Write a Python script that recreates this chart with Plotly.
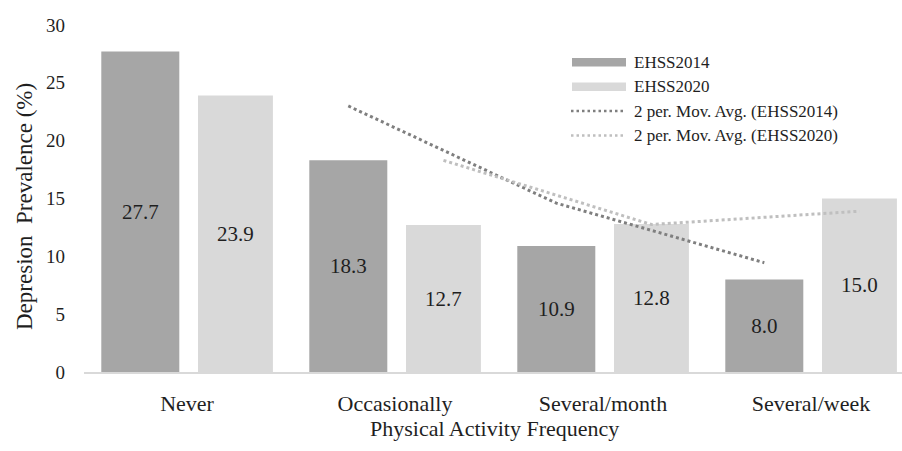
import plotly.graph_objects as go

# Depression prevalence (%) by physical activity frequency, two survey waves
categories = ["Never", "Occasionally", "Several/month", "Several/week"]
ehss2014 = [27.7, 18.3, 10.9, 8.0]
ehss2020 = [23.9, 12.7, 12.8, 15.0]

# 2-period moving averages (defined from the second category onward)
mov_avg_2014 = [23.0, 14.6, 9.45]
mov_avg_2020 = [18.3, 12.75, 13.9]

y_ticks = [0, 5, 10, 15, 20, 25, 30]

W, H = 902, 451
ML, MR, MT, MB = 84, 0, 25, 79
PLOT_W = W - ML - MR
PLOT_H = H - MT - MB

FONT = "Liberation Serif"
TXT = "#1f1f1f"
DARK = "#a6a6a6"
LIGHT = "#d9d9d9"
MA_DARK = "#7f7f7f"
MA_LIGHT = "#bfbfbf"

# bar geometry in category units
W14, OFF14 = 0.375, -0.412
W20, OFF20 = 0.36, 0.053
C14 = OFF14 + W14 / 2
C20 = OFF20 + W20 / 2

idx = list(range(len(categories)))


def fmt(v):
    return f"{v:.1f}"


def px_x(px):
    return (px - ML) / PLOT_W


def px_y(py):
    return (MT + PLOT_H - py) / PLOT_H


fig = go.Figure()

fig.add_trace(go.Bar(
    x=idx, y=ehss2014, width=W14, offset=OFF14,
    marker=dict(color=DARK, line=dict(width=0)),
    text=[fmt(v) for v in ehss2014], textposition="inside",
    insidetextanchor="middle", textangle=0,
    textfont=dict(family=FONT, size=21, color=TXT),
    name="EHSS2014", showlegend=False,
))
fig.add_trace(go.Bar(
    x=idx, y=ehss2020, width=W20, offset=OFF20,
    marker=dict(color=LIGHT, line=dict(width=0)),
    text=[fmt(v) for v in ehss2020], textposition="inside",
    insidetextanchor="middle", textangle=0,
    textfont=dict(family=FONT, size=21, color=TXT),
    name="EHSS2020", showlegend=False,
))

fig.add_trace(go.Scatter(
    x=[i + C14 for i in idx[1:]], y=mov_avg_2014, mode="lines",
    line=dict(color=MA_DARK, width=3, dash="3px,3px"),
    name="2 per. Mov. Avg. (EHSS2014)", showlegend=False, hoverinfo="skip",
))
fig.add_trace(go.Scatter(
    x=[i + C20 for i in idx[1:]], y=mov_avg_2020, mode="lines",
    line=dict(color=MA_LIGHT, width=3, dash="3px,3px"),
    name="2 per. Mov. Avg. (EHSS2020)", showlegend=False, hoverinfo="skip",
))

# hand-built legend
legend_rows = [
    ("EHSS2014", "bar", DARK),
    ("EHSS2020", "bar", LIGHT),
    ("2 per. Mov. Avg. (EHSS2014)", "line", MA_DARK),
    ("2 per. Mov. Avg. (EHSS2020)", "line", MA_LIGHT),
]
row_y = [62.3, 86.7, 111.1, 135.5]
shapes = []
annotations = []
for (label, kind, color), ry in zip(legend_rows, row_y):
    if kind == "bar":
        shapes.append(dict(
            type="rect", xref="paper", yref="paper",
            x0=px_x(572), x1=px_x(626), y0=px_y(ry + 4.2), y1=px_y(ry - 4.2),
            fillcolor=color, line=dict(width=0), layer="above",
        ))
    else:
        shapes.append(dict(
            type="line", xref="paper", yref="paper",
            x0=px_x(571), x1=px_x(623), y0=px_y(ry), y1=px_y(ry),
            line=dict(color=color, width=2.5, dash="2.5px,3px"), layer="above",
        ))
    annotations.append(dict(
        text=label, xref="paper", yref="paper",
        x=px_x(632), y=px_y(ry), xanchor="left", yanchor="middle",
        showarrow=False, font=dict(family=FONT, size=17, color=TXT),
    ))

# axis titles
annotations.append(dict(
    text="Physical Activity Frequency", xref="paper", yref="paper",
    x=px_x(494), y=px_y(428), xanchor="center", yanchor="middle",
    showarrow=False, font=dict(family=FONT, size=22, color=TXT),
))
annotations.append(dict(
    text="Depresion\u00a0 Prevalence (%)", xref="paper", yref="paper",
    x=px_x(24), y=px_y(207), xanchor="center", yanchor="middle",
    textangle=-90, showarrow=False, font=dict(family=FONT, size=23, color=TXT),
))

fig.update_layout(
    width=W, height=H,
    margin=dict(l=ML, r=MR, t=MT, b=MB, pad=0),
    paper_bgcolor="white", plot_bgcolor="white",
    barmode="overlay",
    font=dict(family=FONT, color=TXT),
    shapes=shapes, annotations=annotations,
    showlegend=False,
    xaxis=dict(
        range=[-(187 - ML) / 208, -(187 - ML) / 208 + PLOT_W / 208],
        tickmode="array", tickvals=idx, ticktext=categories,
        tickfont=dict(family=FONT, size=22, color=TXT),
        ticks="", showgrid=False, zeroline=False,
        showline=True, linecolor="#d9d9d9", linewidth=2,
        ticklabelstandoff=11,
    ),
    yaxis=dict(
        range=[0, 30], tickmode="array", tickvals=y_ticks,
        tickfont=dict(family=FONT, size=19, color=TXT),
        ticks="", showgrid=False, zeroline=False, showline=False,
        ticklabelstandoff=18,
    ),
)

fig.write_html("out.html")
